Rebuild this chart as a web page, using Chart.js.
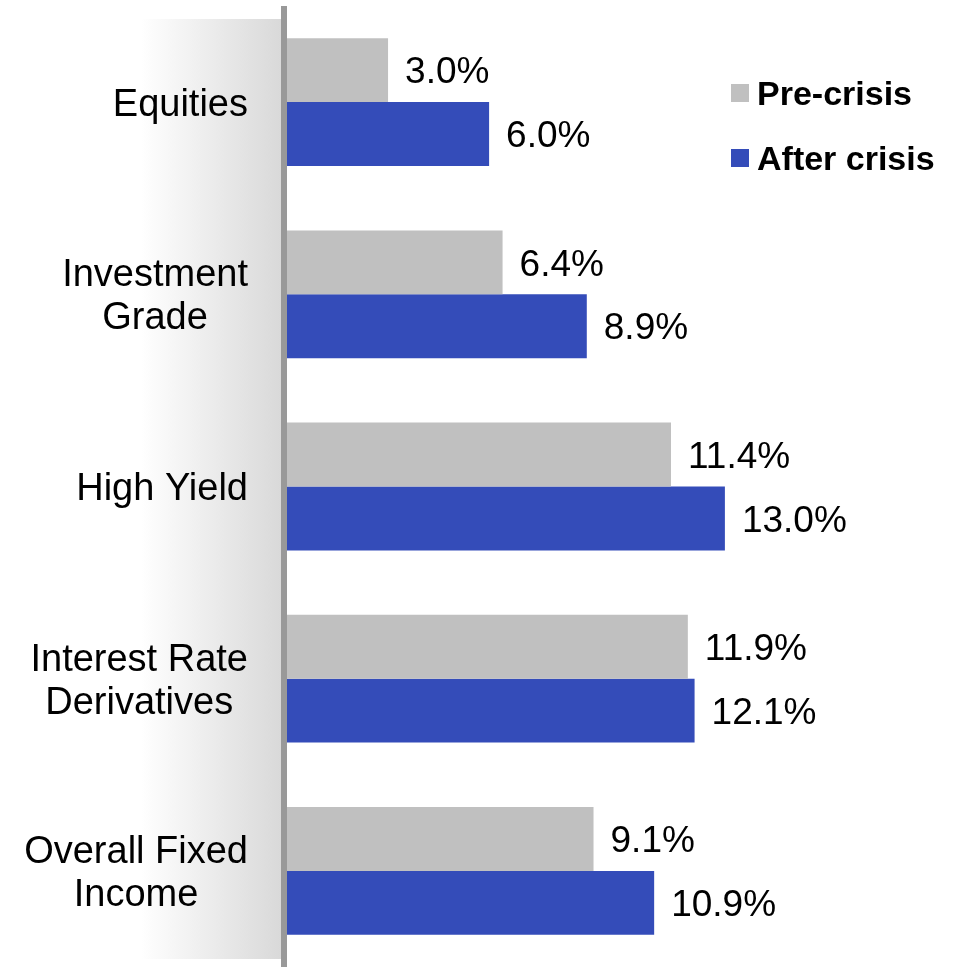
<!DOCTYPE html>
<html>
<head>
<meta charset="utf-8">
<script src="https://cdn.jsdelivr.net/npm/chart.js@4/dist/chart.umd.min.js"></script>
<style>
  html, body { margin: 0; padding: 0; background: #fff; }
  canvas { display: block; }
</style>
</head>
<body>
<canvas id="myChart" width="955" height="967"></canvas>
<script>
const categories = [
  'Equities',
  ['Investment', 'Grade'],
  'High Yield',
  ['Interest Rate', 'Derivatives'],
  ['Overall Fixed', 'Income']
];
const preCrisis = [3.0, 6.4, 11.4, 11.9, 9.1];
const afterCrisis = [6.0, 8.9, 13.0, 12.1, 10.9];
const seriesNames = ['Pre-crisis', 'After crisis'];
const seriesColors = ['#c0c0c0', '#344cb9'];

const FONT = '"Liberation Sans", Arial, sans-serif';

// grey panel behind the labels, thick axis line, labels, values, legend
const panelPlugin = {
  id: 'panel',
  beforeDraw(chart) {
    const ctx = chart.ctx;
    const area = chart.chartArea;
    const lineX = area.left - 6;
    const g = ctx.createLinearGradient(0, 0, lineX, 0);
    g.addColorStop(0, '#ffffff');
    g.addColorStop(0.5, '#ffffff');
    g.addColorStop(1, '#d9d9d9');
    ctx.save();
    ctx.fillStyle = g;
    ctx.fillRect(0, area.top + 13, lineX, area.bottom - area.top - 21);
    ctx.fillStyle = '#999999';
    ctx.fillRect(lineX, area.top, 6, area.bottom - area.top);

    // category labels: block right aligned, lines centred in block
    const yScale = chart.scales.y;
    ctx.font = '38px ' + FONT;
    ctx.fillStyle = '#000';
    ctx.textBaseline = 'middle';
    ctx.textAlign = 'center';
    const lineH = 43;
    const rightEdge = area.left - 39;
    chart.data.labels.forEach((lab, i) => {
      const lines = Array.isArray(lab) ? lab : [lab];
      const w = Math.max(...lines.map(l => ctx.measureText(l).width));
      const cx = rightEdge - w / 2;
      const cy = yScale.getPixelForValue(i) + 3;
      const y0 = cy - (lines.length - 1) * lineH / 2;
      lines.forEach((l, k) => ctx.fillText(l, cx, y0 + k * lineH));
    });
    ctx.restore();
  },
  afterDatasetsDraw(chart) {
    const ctx = chart.ctx;
    ctx.save();
    ctx.font = '37px ' + FONT;
    ctx.fillStyle = '#000';
    ctx.textBaseline = 'middle';
    ctx.textAlign = 'left';
    chart.data.datasets.forEach((ds, i) => {
      chart.getDatasetMeta(i).data.forEach((bar, j) => {
        ctx.fillText(ds.data[j].toFixed(1) + '%', bar.x + 17, bar.y + 3);
      });
    });
    // legend
    ctx.font = 'bold 34px ' + FONT;
    chart.data.datasets.forEach((ds, i) => {
      const y = 94 + i * 65;
      ctx.fillStyle = ds.backgroundColor;
      ctx.fillRect(731, y - 10, 18, 18);
      ctx.fillStyle = '#000';
      ctx.fillText(ds.label, 757, y + 2);
    });
    ctx.restore();
  }
};

new Chart(document.getElementById('myChart'), {
  type: 'bar',
  data: {
    labels: categories,
    datasets: [
      { label: seriesNames[0], data: preCrisis, backgroundColor: seriesColors[0] },
      { label: seriesNames[1], data: afterCrisis, backgroundColor: seriesColors[1] }
    ]
  },
  options: {
    indexAxis: 'y',
    responsive: false,
    animation: false,
    categoryPercentage: 0.665,
    barPercentage: 1.0,
    layout: { padding: { top: 6, right: 28, bottom: 0, left: 0 } },
    plugins: {
      legend: { display: false },
      tooltip: { enabled: false }
    },
    scales: {
      x: {
        display: false,
        min: 0,
        max: 19
      },
      y: {
        grid: { display: false, drawTicks: false },
        border: { display: false },
        ticks: { display: false },
        afterFit(scale) {
          scale.width = 287;
          scale.paddingTop = 0;
          scale.paddingBottom = 0;
        }
      }
    }
  },
  plugins: [panelPlugin]
});
</script>
</body>
</html>
